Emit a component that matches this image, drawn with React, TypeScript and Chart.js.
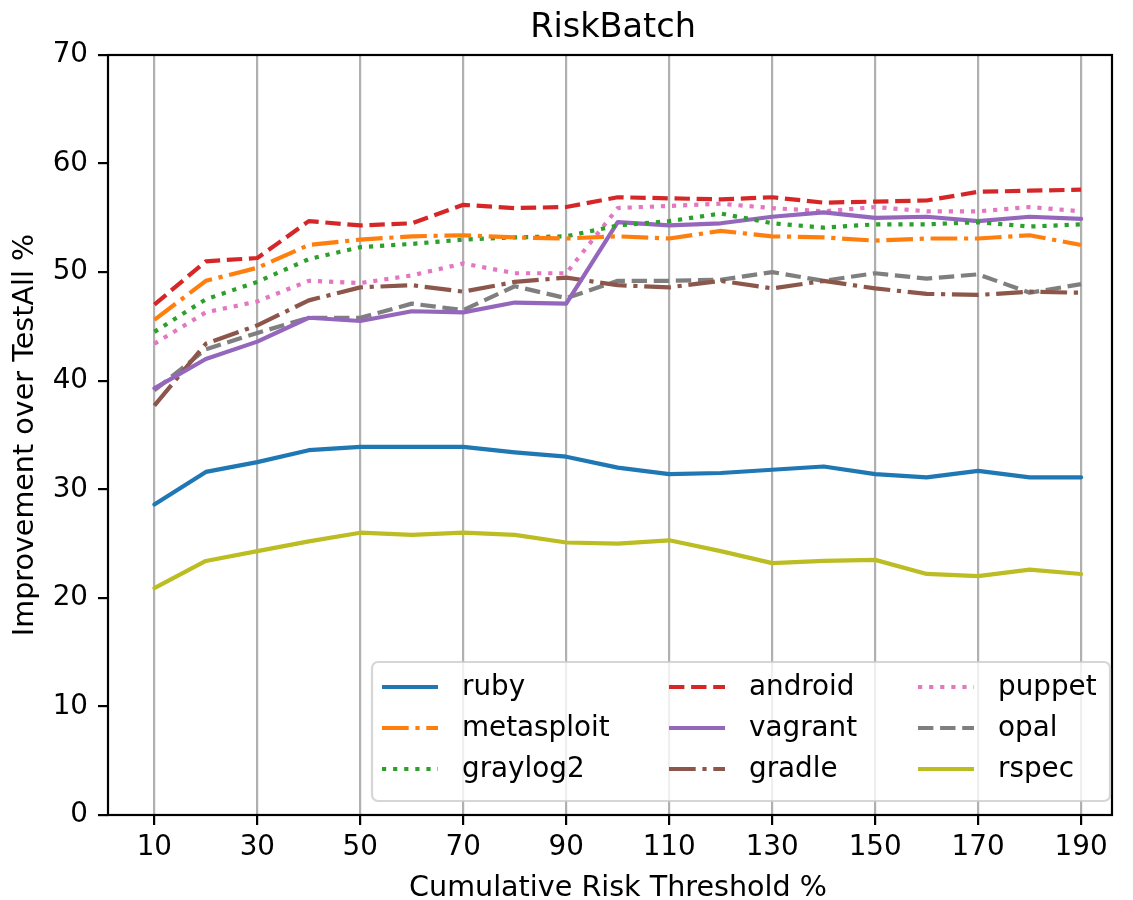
import React, { useEffect, useRef } from "react";
import { Chart, registerables } from "chart.js";

Chart.register(...registerables);

const CATEGORIES = [10, 20, 30, 40, 50, 60, 70, 80, 90, 100, 110, 120, 130, 140, 150, 160, 170, 180, 190];
const X_TICKS = [10, 30, 50, 70, 90, 110, 130, 150, 170, 190];
const Y_TICKS = [0, 10, 20, 30, 40, 50, 60, 70];

const SERIES_NAMES = ["ruby", "metasploit", "graylog2", "android", "vagrant", "gradle", "puppet", "opal", "rspec"];
const SERIES_COLORS = ["#1f77b4", "#ff7f0e", "#2ca02c", "#d62728", "#9467bd", "#8c564b", "#e377c2", "#7f7f7f", "#bcbd22"];
const SERIES_STYLES = ["solid", "dashdot", "dotted", "dashed", "solid", "dashdot", "dotted", "dashed", "solid"];

const ruby = [28.6, 31.6, 32.5, 33.6, 33.9, 33.9, 33.9, 33.4, 33.0, 32.0, 31.4, 31.5, 31.8, 32.1, 31.4, 31.1, 31.7, 31.1, 31.1];
const metasploit = [45.6, 49.2, 50.4, 52.5, 53.0, 53.3, 53.4, 53.2, 53.1, 53.3, 53.1, 53.8, 53.3, 53.2, 52.9, 53.1, 53.1, 53.4, 52.5];
const graylog2 = [44.5, 47.5, 49.1, 51.2, 52.3, 52.6, 53.0, 53.2, 53.3, 54.3, 54.7, 55.4, 54.5, 54.1, 54.4, 54.4, 54.6, 54.2, 54.4];
const android = [47.0, 51.0, 51.3, 54.7, 54.3, 54.5, 56.2, 55.9, 56.0, 56.9, 56.8, 56.7, 56.9, 56.4, 56.5, 56.6, 57.4, 57.5, 57.6];
const vagrant = [39.3, 42.0, 43.6, 45.8, 45.5, 46.4, 46.3, 47.2, 47.1, 54.6, 54.3, 54.5, 55.1, 55.5, 55.0, 55.1, 54.7, 55.1, 54.9];
const gradle = [37.7, 43.4, 45.1, 47.4, 48.6, 48.8, 48.2, 49.1, 49.5, 48.8, 48.6, 49.2, 48.5, 49.2, 48.5, 48.0, 47.9, 48.2, 48.1];
const puppet = [43.4, 46.3, 47.3, 49.2, 49.0, 49.7, 50.8, 49.9, 49.9, 55.9, 56.1, 56.3, 55.9, 55.6, 56.0, 55.6, 55.6, 56.0, 55.6];
const opal = [39.1, 42.9, 44.4, 45.8, 45.8, 47.1, 46.5, 48.7, 47.6, 49.2, 49.2, 49.3, 50.0, 49.2, 49.9, 49.4, 49.8, 48.1, 48.9];
const rspec = [20.9, 23.4, 24.3, 25.2, 26.0, 25.8, 26.0, 25.8, 25.1, 25.0, 25.3, 24.3, 23.2, 23.4, 23.5, 22.2, 22.0, 22.6, 22.2];

const SERIES_VALUES = [ruby, metasploit, graylog2, android, vagrant, gradle, puppet, opal, rspec];

const TITLE = "RiskBatch";
const X_LABEL = "Cumulative Risk Threshold %";
const Y_LABEL = "Improvement over TestAll %";

const FONT = '"DejaVu Sans", sans-serif';
const LW = 4.2;
const DASHES: Record<string, number[]> = {
  solid: [],
  dashed: [15.4, 6.7],
  dotted: [4.2, 6.9],
  dashdot: [26.7, 6.7, 4.2, 6.7],
};

// legend layout: entries listed column-wise (matplotlib ncol=3)
const LEGEND_COLS = 3;

const decorPlugin = {
  id: "decor",
  afterDraw(chart: any) {
    const ctx = chart.ctx as CanvasRenderingContext2D;
    const a = chart.chartArea;
    ctx.save();
    // spines
    ctx.strokeStyle = "#000";
    ctx.lineWidth = 2.2;
    ctx.setLineDash([]);
    ctx.strokeRect(a.left, a.top, a.right - a.left, a.bottom - a.top);

    // title
    ctx.fillStyle = "#000";
    ctx.textAlign = "center";
    ctx.textBaseline = "alphabetic";
    ctx.font = `33.5px ${FONT}`;
    ctx.fillText(TITLE, (a.left + a.right) / 2 + 3, 37);
    // x label
    ctx.font = `28.6px ${FONT}`;
    ctx.fillText(X_LABEL, (a.left + a.right) / 2 + 8, 896);
    // y label
    ctx.save();
    ctx.translate(33, (a.top + a.bottom) / 2);
    ctx.rotate(-Math.PI / 2);
    ctx.fillText(Y_LABEL, 0, 0);
    ctx.restore();

    // legend
    const bx = 372, by = 662, bw = 738, bh = 139, r = 6;
    ctx.beginPath();
    ctx.moveTo(bx + r, by);
    ctx.lineTo(bx + bw - r, by);
    ctx.arcTo(bx + bw, by, bx + bw, by + r, r);
    ctx.lineTo(bx + bw, by + bh - r);
    ctx.arcTo(bx + bw, by + bh, bx + bw - r, by + bh, r);
    ctx.lineTo(bx + r, by + bh);
    ctx.arcTo(bx, by + bh, bx, by + bh - r, r);
    ctx.lineTo(bx, by + r);
    ctx.arcTo(bx, by, bx + r, by, r);
    ctx.closePath();
    ctx.fillStyle = "rgba(255,255,255,0.8)";
    ctx.fill();
    ctx.strokeStyle = "rgba(204,204,204,0.8)";
    ctx.lineWidth = 2.2;
    ctx.stroke();

    const colX = [382, 669, 918];
    const rowY = [687, 728, 769];
    const rows = Math.ceil(SERIES_NAMES.length / LEGEND_COLS);
    ctx.font = `27.8px ${FONT}`;
    ctx.textAlign = "left";
    ctx.textBaseline = "middle";
    SERIES_NAMES.forEach((name, i) => {
      const c = Math.floor(i / rows);
      const rr = i % rows;
      const x0 = colX[c];
      const y0 = rowY[rr];
      ctx.beginPath();
      ctx.strokeStyle = SERIES_COLORS[i];
      ctx.lineWidth = LW;
      ctx.lineCap = "butt";
      ctx.setLineDash(DASHES[SERIES_STYLES[i]]);
      ctx.moveTo(x0, y0);
      ctx.lineTo(x0 + 56, y0);
      ctx.stroke();
      ctx.setLineDash([]);
      ctx.fillStyle = "#000";
      ctx.fillText(name, x0 + 80, y0 + 1);
    });
    ctx.restore();
  },
};

export default function App() {
  const ref = useRef<HTMLCanvasElement | null>(null);

  useEffect(() => {
    document.body.style.margin = "0";
    const canvas = ref.current;
    if (!canvas) return;
    const datasets = SERIES_NAMES.map((name, i) => ({
      label: name,
      data: CATEGORIES.map((x, j) => ({ x, y: SERIES_VALUES[i][j] })),
      borderColor: SERIES_COLORS[i],
      backgroundColor: SERIES_COLORS[i],
      borderWidth: LW,
      borderDash: DASHES[SERIES_STYLES[i]],
      borderCapStyle: SERIES_STYLES[i] === "solid" ? "round" : "butt",
      borderJoinStyle: "round",
      pointRadius: 0,
      tension: 0,
      fill: false,
    }));
    const chart = new Chart(canvas, {
      type: "line",
      data: { datasets } as any,
      plugins: [decorPlugin],
      options: {
        animation: false,
        responsive: false,
        devicePixelRatio: 1,
        layout: { padding: { top: 55, right: 21, left: 0, bottom: 0 } },
        plugins: {
          legend: { display: false },
          title: { display: false },
          tooltip: { enabled: false },
        },
        scales: {
          x: {
            type: "linear",
            min: 1,
            max: 196,
            afterFit(scale: any) {
              scale.height = 85;
            },
            afterBuildTicks(scale: any) {
              scale.ticks = X_TICKS.map((v) => ({ value: v }));
            },
            grid: {
              color: "#b0b0b0",
              lineWidth: 2.2,
              tickColor: "#000",
              tickLength: 10,
              tickWidth: 2.2,
            },
            border: { display: false },
            ticks: {
              autoSkip: false,
              maxRotation: 0,
              color: "#000",
              padding: 6,
              font: { family: FONT, size: 27.8 },
            },
          },
          y: {
            type: "linear",
            min: 0,
            max: 70,
            afterFit(scale: any) {
              scale.width = 108;
            },
            afterBuildTicks(scale: any) {
              scale.ticks = Y_TICKS.map((v) => ({ value: v }));
            },
            grid: {
              drawOnChartArea: false,
              tickColor: "#000",
              tickLength: 10,
              tickWidth: 2.2,
              lineWidth: 2.2,
            },
            border: { display: false },
            ticks: {
              color: "#000",
              padding: 10,
              font: { family: FONT, size: 27.8 },
            },
          },
        },
      } as any,
    });
    return () => chart.destroy();
  }, []);

  return (
    <div style={{ width: 1133, height: 900, background: "#fff" }}>
      <canvas ref={ref} width={1133} height={900} style={{ width: 1133, height: 900, display: "block" }} />
    </div>
  );
}
